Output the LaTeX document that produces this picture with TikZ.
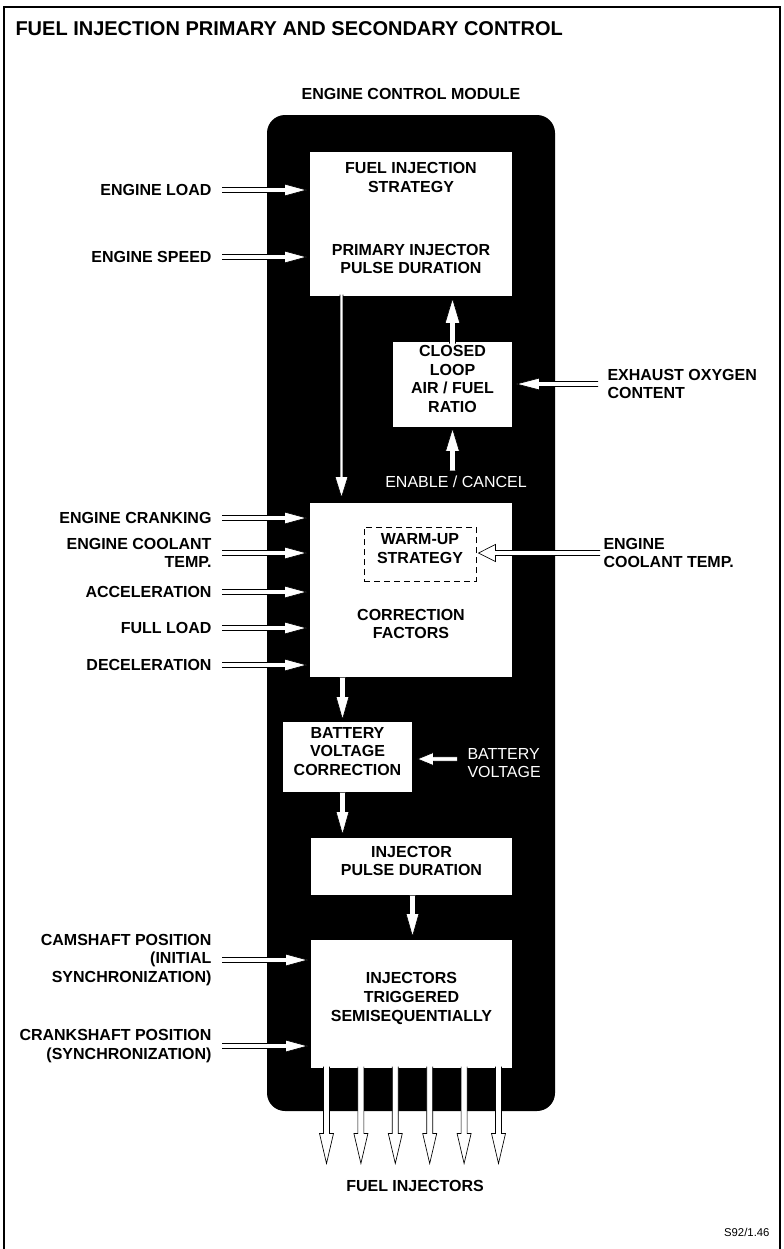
\documentclass[tikz,border=0pt]{standalone}
\usepackage{fontspec}
\setmainfont{Liberation Sans}
\usetikzlibrary{calc,fit}

\tikzset{every picture/.style={line width=0.75pt}}
\tikzset{
  lbl/.style={font=\bfseries\fontsize{12}{14}\selectfont, inner sep=0pt},
  whitebox/.style={lbl, fill=white, align=center},
  wlbl/.style={font=\fontsize{12}{14}\selectfont, text=white, inner sep=0pt},
  warmbox/.style={lbl, draw=black, line width=0.75pt, dash pattern={on 4.5pt off 3pt}, align=center},
  arrowline/.style={draw=black, fill=white, line width=0.5pt, line join=miter},
}

% block arrow: shaft half width, head half width, head length, gap, from, to
\newcommand{\blockarrow}[6]{%
  \draw[arrowline] ($(#5)!#1!90:(#6)$)
    -- ($(#6)!{#3+#4}!(#5)!#1!90:(#6)$)
    -- ($(#6)!{#3+#4}!(#5)!#2!90:(#6)$)
    -- ($(#6)!#4!(#5)$)
    -- ($(#6)!{#3+#4}!(#5)!#2!-90:(#6)$)
    -- ($(#6)!{#3+#4}!(#5)!#1!-90:(#6)$)
    -- ($(#5)!#1!-90:(#6)$);}

\begin{document}
\begin{tikzpicture}[x=0.75pt,y=0.75pt,yscale=-1,xscale=1]
\useasboundingbox (0,0) rectangle (784,1249);

%Frame
\draw[line width=1.1pt] (4,1249) -- (4,7) -- (780,7) -- (780,1249);

% Text Node
\node[lbl, font=\bfseries\fontsize{15}{18}\selectfont, anchor=base west] (title) at (15,36) {FUEL INJECTION PRIMARY AND SECONDARY CONTROL};
% Text Node
\node[lbl] (ecmlabel) at (411,94) {ENGINE CONTROL MODULE};

%Shape: Module
\node[fill=black, rounded corners=13.5pt, inner sep=0pt, fit={(267,115) (555,1111)}] (ecm) {};

%Shape: Boxes
\node[whitebox, fit={(310,152) (512,296)}] (fis) {FUEL INJECTION\\STRATEGY\\[33pt]PRIMARY INJECTOR\\PULSE DURATION};
\node[whitebox, fit={(393,342) (512,427)}] (cl) {CLOSED\\LOOP\\AIR / FUEL\\RATIO};
\node[whitebox, fit={(310,503) (512,677)}] (corr) {};
\node[lbl, align=center] (corrtxt) at (411,624) {CORRECTION\\FACTORS};
\node[warmbox, fit={(364,527) (476,581)}] (warm) {WARM-UP\\STRATEGY};
\node[whitebox, fit={(283,722) (412,792)}] (batt) {BATTERY\\VOLTAGE\\CORRECTION};
\node[whitebox, fit={(311,838) (512,895)}] (ipd) {INJECTOR\\PULSE DURATION};
\node[whitebox, fit={(311,940) (512,1068)}] (inj) {INJECTORS\\TRIGGERED\\SEMISEQUENTIALLY};

% Text Node
\node[lbl, anchor=east, align=right] (load) at (212,190) {ENGINE LOAD};
\node[lbl, anchor=east, align=right] (speed) at (212,257) {ENGINE SPEED};
\node[lbl, anchor=east, align=right] (crank) at (212,518) {ENGINE CRANKING};
\node[lbl, anchor=east, align=right] (coolL) at (212,553) {ENGINE COOLANT\\TEMP.};
\node[lbl, anchor=east, align=right] (accel) at (212,592) {ACCELERATION};
\node[lbl, anchor=east, align=right] (full) at (212,628) {FULL LOAD};
\node[lbl, anchor=east, align=right] (decel) at (212,665) {DECELERATION};
\node[lbl, anchor=east, align=right] (cam) at (212,960) {CAMSHAFT POSITION\\(INITIAL\\SYNCHRONIZATION)};
\node[lbl, anchor=east, align=right] (crankpos) at (212,1046) {CRANKSHAFT POSITION\\(SYNCHRONIZATION)};
% Text Node
\node[lbl, anchor=west, align=left] (exh) at (607,384) {EXHAUST OXYGEN\\CONTENT};
\node[lbl, anchor=west, align=left] (coolR) at (603,553) {ENGINE\\COOLANT TEMP.};
\node[wlbl] (enable) at (456,482) {ENABLE / CANCEL};
\node[wlbl, anchor=west, align=left] (bv) at (467,763) {BATTERY\\VOLTAGE};
\node[lbl] (fuelinj) at (415,1186) {FUEL INJECTORS};
\node[font=\fontsize{8.5}{10}\selectfont, inner sep=0pt, anchor=base east] (ref) at (770,1236) {S92/1.46};

%Arrows: inputs
\foreach \n/\b in {load/fis, speed/fis, crank/corr, coolL/corr, accel/corr, full/corr, decel/corr, cam/inj, crankpos/inj}{
  \coordinate (s\n) at ($(\n.east)+(10,0)$);
  \blockarrow{1.875pt}{4.5pt}{16.5pt}{2.25pt}{s\n}{\b.west |- s\n}
}
\coordinate (sexh) at ($(exh.west)+(-9,0)$);
\blockarrow{1.875pt}{4.5pt}{17.25pt}{3pt}{sexh}{cl.east |- sexh}
\coordinate (scool) at ($(coolR.west)+(-3,0)$);
\blockarrow{1.875pt}{6.4pt}{12.75pt}{1.5pt}{scool}{warm.east |- scool}
\coordinate (sbv) at ($(bv.west)+(-10,-4)$);
\blockarrow{1.6pt}{4.9pt}{12pt}{3.75pt}{sbv}{batt.east |- sbv}

%Arrows: inside module
\coordinate (thin) at ($(fis.south west)+(32,-2)$);
\blockarrow{1.1pt}{4.9pt}{15.75pt}{3.75pt}{thin}{corr.north -| thin}
\coordinate (clup) at ($(cl.north)+(0,2)$);
\blockarrow{2.25pt}{5.6pt}{18.75pt}{1.5pt}{clup}{fis.south -| clup}
\coordinate (sen) at ($(cl.south)+(0,43)$);
\blockarrow{2.25pt}{5.25pt}{17.25pt}{0.75pt}{sen}{cl.south}
\coordinate (cb) at ($(batt.north west)+(60,0)$);
\blockarrow{2.25pt}{4.9pt}{17.25pt}{1.5pt}{corr.south -| cb}{cb}
\blockarrow{2.25pt}{4.9pt}{17.25pt}{2.25pt}{batt.south -| cb}{ipd.north -| cb}
\coordinate (pi) at ($(inj.north west)+(102,0)$);
\blockarrow{2.25pt}{4.9pt}{17.25pt}{2.25pt}{ipd.south -| pi}{pi}

%Arrows: fuel injectors
\foreach \i in {0,...,5}{
  \coordinate (a\i) at ($(inj.south west)+(16+34.4*\i,-2)$);
  \coordinate (b\i) at ($(a\i)+(0,97)$);
  \blockarrow{2.25pt}{5.25pt}{22.5pt}{0pt}{a\i}{b\i}
}

\end{tikzpicture}
\end{document}
